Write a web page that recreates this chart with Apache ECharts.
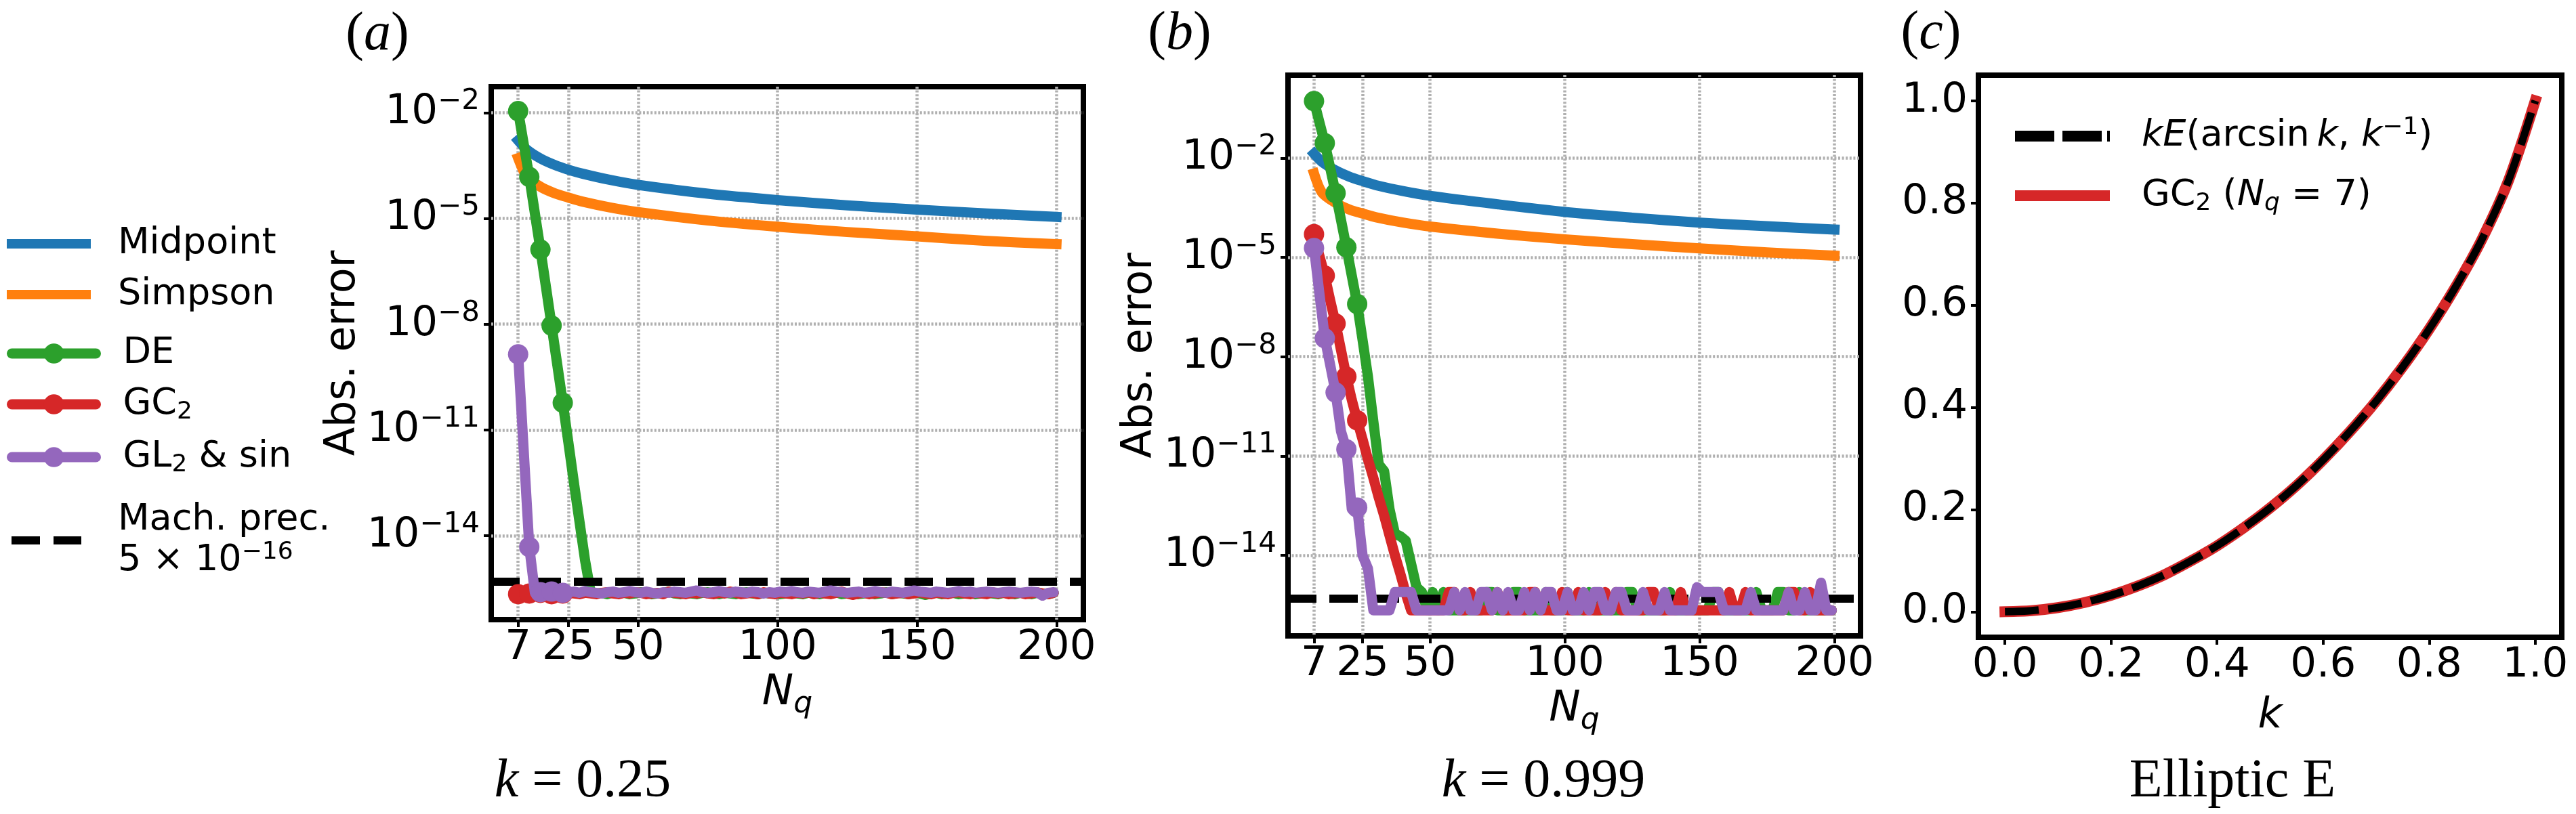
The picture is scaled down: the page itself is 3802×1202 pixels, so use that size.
<!DOCTYPE html>
<html>
<head>
<meta charset="utf-8">
<title>Quadrature errors</title>
<script src="https://cdn.jsdelivr.net/npm/echarts@6/dist/echarts.min.js"></script>
<style>
  html, body { margin: 0; padding: 0; background: #fff; }
  #chart { width: 3802px; height: 1202px; }
</style>
</head>
<body>
<div id="chart"></div>
<script>
// ---- data ----

// N_q grid of the Gauss/DE error curves
var nq = [7, 9, 11, 13, 15, 17, 19, 21, 23, 25, 27, 29, 31, 33, 35, 37, 39, 41, 43, 45,
  47, 49, 51, 53, 55, 57, 59, 61, 63, 65, 67, 69, 71, 73, 75, 77, 79, 81, 83, 85,
  87, 89, 91, 93, 95, 97, 99, 101, 103, 105, 107, 109, 111, 113, 115, 117, 119, 121, 123, 125,
  127, 129, 131, 133, 135, 137, 139, 141, 143, 145, 147, 149, 151, 153, 155, 157, 159, 161, 163, 165,
  167, 169, 171, 173, 175, 177, 179, 181, 183, 185, 187, 189, 191, 193, 195, 197, 199];
// N_q points used for the smooth midpoint / Simpson curves
var nqSmooth = [7, 10, 15, 20, 25, 30, 40, 50, 75, 100, 125, 150, 175, 200];

// (a) k = 0.25
var midA = [1.62e-3, 9.1e-4, 5.0e-4, 3.3e-4, 2.4e-4, 1.86e-4, 1.23e-4, 8.9e-5, 5.0e-5, 3.3e-5, 2.35e-5, 1.78e-5, 1.38e-5, 1.1e-5];
var simA = [5.1e-4, 1.58e-4, 7.9e-5, 5.2e-5, 3.9e-5, 3.0e-5, 2.04e-5, 1.51e-5, 8.7e-6, 5.8e-6, 4.1e-6, 3.1e-6, 2.3e-6, 1.86e-6];
var deA = [1.1e-2, 1.3e-3, 1.5e-4, 1.4e-5, 1.3e-6, 1.1e-7, 9.1e-9, 7.4e-10, 5.9e-11, 4.5e-12,
  3.2e-13, 2.5e-14, 2.0e-15, 2.5e-16, 2.3e-16, 2.4e-16, 2.2e-16, 2.5e-16, 2.3e-16, 2.4e-16,
  2.2e-16, 2.3e-16, 2.5e-16, 2.4e-16, 2.2e-16, 2.3e-16, 2.4e-16, 2.6e-16, 2.3e-16, 2.2e-16,
  2.4e-16, 2.3e-16, 2.2e-16, 2.4e-16, 2.5e-16, 2.3e-16, 2.2e-16, 2.4e-16, 2.3e-16, 2.2e-16,
  2.4e-16, 2.5e-16, 2.3e-16, 2.2e-16, 2.4e-16, 2.3e-16, 2.4e-16, 2.2e-16, 2.3e-16, 2.5e-16,
  2.3e-16, 2.2e-16, 2.4e-16, 2.3e-16, 2.2e-16, 2.4e-16, 2.3e-16, 2.5e-16, 2.2e-16, 2.3e-16,
  2.4e-16, 2.2e-16, 2.3e-16, 2.4e-16, 2.2e-16, 2.3e-16, 2.5e-16, 2.2e-16, 2.4e-16, 2.3e-16,
  2.2e-16, 2.4e-16, 2.3e-16, 2.1e-16, 2.3e-16, 2.4e-16, 2.2e-16, 2.3e-16, 2.4e-16, 2.2e-16,
  2.3e-16, 2.4e-16, 2.2e-16, 2.3e-16, 2.5e-16, 2.3e-16, 2.2e-16, 2.4e-16, 2.3e-16, 2.2e-16,
  2.4e-16, 2.3e-16, 2.2e-16, 2.4e-16, 2.3e-16, 2.2e-16, 2.4e-16];
var gcA = [2.2e-16, 2.1e-16, 2.3e-16, 2.2e-16, 2.4e-16, 2.3e-16, 2.2e-16, 2.4e-16, 2.3e-16, 2.5e-16,
  2.3e-16, 2.2e-16, 2.4e-16, 2.3e-16, 2.2e-16, 2.4e-16, 2.5e-16, 2.3e-16, 2.2e-16, 2.4e-16,
  2.3e-16, 2.5e-16, 2.4e-16, 2.2e-16, 2.3e-16, 2.4e-16, 2.2e-16, 2.6e-16, 2.4e-16, 2.3e-16,
  2.2e-16, 2.4e-16, 2.3e-16, 2.5e-16, 2.3e-16, 2.2e-16, 2.4e-16, 2.3e-16, 2.6e-16, 2.4e-16,
  2.2e-16, 2.3e-16, 2.4e-16, 2.2e-16, 2.5e-16, 2.3e-16, 2.2e-16, 2.4e-16, 2.3e-16, 2.2e-16,
  2.4e-16, 2.3e-16, 2.5e-16, 2.2e-16, 2.4e-16, 2.3e-16, 2.2e-16, 2.4e-16, 2.6e-16, 2.3e-16,
  2.1e-16, 2.3e-16, 2.4e-16, 2.2e-16, 2.3e-16, 2.5e-16, 2.4e-16, 2.2e-16, 2.3e-16, 2.4e-16,
  2.2e-16, 2.3e-16, 2.5e-16, 2.3e-16, 2.2e-16, 2.4e-16, 2.3e-16, 2.2e-16, 2.4e-16, 2.5e-16,
  2.3e-16, 2.2e-16, 2.4e-16, 2.3e-16, 2.2e-16, 2.5e-16, 2.3e-16, 2.4e-16, 2.2e-16, 2.3e-16,
  2.4e-16, 2.2e-16, 2.3e-16, 2.5e-16, 2.3e-16, 2.2e-16, 2.4e-16];
var glA = [1.4e-9, 2.6e-12, 4.8e-15, 2.4e-16, 2.5e-16, 2.4e-16, 2.6e-16, 2.5e-16, 2.4e-16, 2.5e-16,
  2.6e-16, 2.4e-16, 2.7e-16, 2.5e-16, 2.4e-16, 2.3e-16, 2.5e-16, 2.6e-16, 2.4e-16, 2.5e-16,
  2.7e-16, 2.5e-16, 2.4e-16, 2.6e-16, 2.4e-16, 2.3e-16, 2.5e-16, 2.4e-16, 2.6e-16, 2.5e-16,
  2.4e-16, 2.6e-16, 2.8e-16, 2.5e-16, 2.4e-16, 2.5e-16, 2.7e-16, 2.5e-16, 2.4e-16, 2.6e-16,
  2.5e-16, 2.4e-16, 2.6e-16, 2.5e-16, 2.3e-16, 2.5e-16, 2.4e-16, 2.6e-16, 2.5e-16, 2.7e-16,
  2.5e-16, 2.4e-16, 2.6e-16, 2.5e-16, 2.4e-16, 2.6e-16, 2.8e-16, 2.6e-16, 2.5e-16, 2.4e-16,
  2.5e-16, 2.6e-16, 2.4e-16, 2.5e-16, 2.7e-16, 2.5e-16, 2.4e-16, 2.6e-16, 2.5e-16, 2.4e-16,
  2.6e-16, 2.8e-16, 2.6e-16, 2.5e-16, 2.4e-16, 2.6e-16, 2.5e-16, 2.4e-16, 2.5e-16, 2.7e-16,
  2.5e-16, 2.6e-16, 2.4e-16, 2.5e-16, 2.6e-16, 2.5e-16, 2.4e-16, 2.5e-16, 2.6e-16, 2.5e-16,
  2.4e-16, 2.5e-16, 2.6e-16, 2.5e-16, 2.0e-16, 2.4e-16, 2.5e-16];

// (b) k = 0.999
var midB = [1.35e-2, 7.6e-3, 4.2e-3, 2.75e-3, 2.0e-3, 1.51e-3, 1.0e-3, 7.2e-4, 4.0e-4, 2.35e-4, 1.58e-4, 1.12e-4, 8.7e-5, 6.9e-5];
var simB = [3.4e-3, 8.9e-4, 4.4e-4, 2.8e-4, 2.1e-4, 1.62e-4, 1.12e-4, 8.5e-5, 5.2e-5, 3.5e-5, 2.5e-5, 1.86e-5, 1.41e-5, 1.12e-5];
var deB = [5.2e-1, 1.2e-1, 2.8e-2, 5.0e-3, 8.7e-4, 1.35e-4, 2.0e-5, 2.8e-6, 3.9e-7, 3.2e-8,
  2.5e-9, 1.1e-10, 5.6e-12, 3.5e-12, 2.5e-13, 4.5e-14, 3.8e-14, 2.8e-14, 5.6e-15, 1.1e-15,
  7.8e-16, 2.2e-16, 7.8e-16, 2.2e-16, 7.8e-16, 2.2e-16, 2.2e-16, 2.2e-16, 2.2e-16, 2.2e-16,
  2.2e-16, 2.2e-16, 7.8e-16, 7.8e-16, 2.2e-16, 2.2e-16, 2.2e-16, 7.8e-16, 7.8e-16, 2.2e-16,
  2.2e-16, 2.2e-16, 2.2e-16, 7.8e-16, 2.2e-16, 2.2e-16, 2.2e-16, 7.8e-16, 2.2e-16, 2.2e-16,
  2.2e-16, 7.8e-16, 2.2e-16, 2.2e-16, 2.2e-16, 2.2e-16, 2.2e-16, 2.2e-16, 7.8e-16, 7.8e-16,
  2.2e-16, 2.2e-16, 2.2e-16, 2.2e-16, 2.2e-16, 2.2e-16, 7.8e-16, 2.2e-16, 2.2e-16, 2.2e-16,
  2.2e-16, 2.2e-16, 2.2e-16, 2.2e-16, 7.8e-16, 7.8e-16, 2.2e-16, 2.2e-16, 2.2e-16, 2.2e-16,
  2.2e-16, 2.2e-16, 7.8e-16, 2.2e-16, 2.2e-16, 2.2e-16, 7.8e-16, 7.8e-16, 2.2e-16, 2.2e-16,
  7.8e-16, 2.2e-16, 2.2e-16, 2.2e-16, 2.2e-16, 2.2e-16, 2.2e-16];
var gcB = [5.0e-5, 1.1e-5, 2.8e-6, 5.0e-7, 1.0e-7, 1.6e-8, 2.5e-9, 5.0e-10, 1.2e-10, 3.2e-11,
  7.9e-12, 2.2e-12, 5.6e-13, 1.6e-13, 4.0e-14, 1.0e-14, 2.8e-15, 7.1e-16, 2.2e-16, 2.2e-16,
  2.2e-16, 2.2e-16, 2.2e-16, 2.2e-16, 2.2e-16, 7.8e-16, 7.8e-16, 2.2e-16, 2.2e-16, 7.8e-16,
  2.2e-16, 2.2e-16, 2.2e-16, 2.2e-16, 7.8e-16, 2.2e-16, 2.2e-16, 2.2e-16, 2.2e-16, 2.2e-16,
  7.8e-16, 7.8e-16, 2.2e-16, 2.2e-16, 2.2e-16, 2.2e-16, 7.8e-16, 2.2e-16, 2.2e-16, 7.8e-16,
  2.2e-16, 2.2e-16, 2.2e-16, 2.2e-16, 7.8e-16, 2.2e-16, 7.8e-16, 2.2e-16, 2.2e-16, 2.2e-16,
  2.2e-16, 2.2e-16, 7.8e-16, 7.8e-16, 2.2e-16, 2.2e-16, 2.2e-16, 2.2e-16, 7.8e-16, 2.2e-16,
  2.2e-16, 2.2e-16, 2.2e-16, 2.2e-16, 2.2e-16, 2.2e-16, 2.2e-16, 7.8e-16, 2.2e-16, 2.2e-16,
  7.8e-16, 2.2e-16, 2.2e-16, 2.2e-16, 2.2e-16, 2.2e-16, 2.2e-16, 2.2e-16, 7.8e-16, 7.8e-16,
  2.2e-16, 2.2e-16, 7.8e-16, 2.2e-16, 2.2e-16, 2.2e-16, 2.2e-16];
var glB = [1.9e-5, 8.0e-7, 3.6e-8, 5.6e-9, 8.3e-10, 5.6e-11, 1.6e-11, 2.5e-13, 2.8e-13, 1.0e-14,
  4.0e-15, 2.2e-16, 2.2e-16, 2.2e-16, 2.2e-16, 7.8e-16, 7.8e-16, 7.8e-16, 7.8e-16, 2.2e-16,
  2.2e-16, 2.2e-16, 2.2e-16, 2.2e-16, 2.2e-16, 2.2e-16, 7.8e-16, 2.2e-16, 7.8e-16, 2.2e-16,
  2.2e-16, 7.8e-16, 7.8e-16, 2.2e-16, 7.8e-16, 2.2e-16, 7.8e-16, 2.2e-16, 2.2e-16, 7.8e-16,
  2.2e-16, 7.8e-16, 2.2e-16, 7.8e-16, 7.8e-16, 2.2e-16, 2.2e-16, 7.8e-16, 2.2e-16, 2.2e-16,
  7.8e-16, 2.2e-16, 7.8e-16, 7.8e-16, 2.2e-16, 2.2e-16, 7.8e-16, 7.8e-16, 2.2e-16, 2.2e-16,
  2.2e-16, 7.8e-16, 2.2e-16, 2.2e-16, 2.2e-16, 7.8e-16, 2.2e-16, 2.2e-16, 2.2e-16, 2.2e-16,
  2.2e-16, 1.1e-15, 7.8e-16, 7.8e-16, 7.8e-16, 7.8e-16, 2.2e-16, 2.2e-16, 2.2e-16, 2.2e-16,
  2.2e-16, 7.8e-16, 2.2e-16, 2.2e-16, 2.2e-16, 2.2e-16, 2.2e-16, 2.2e-16, 7.8e-16, 2.2e-16,
  2.2e-16, 7.8e-16, 2.2e-16, 2.2e-16, 1.5e-15, 2.2e-16, 2.2e-16];

var machPrec = 5e-16;

// (c) elliptic E
var kVals = [0, 0.05, 0.1, 0.15, 0.2, 0.25, 0.3, 0.35, 0.4, 0.45, 0.5,
  0.55, 0.6, 0.65, 0.7, 0.75, 0.8, 0.85, 0.9, 0.95, 1.0];
var ellExact = [0, 0.002, 0.008, 0.018, 0.032, 0.050, 0.072, 0.099, 0.129, 0.164, 0.203,
  0.247, 0.297, 0.352, 0.412, 0.479, 0.553, 0.636, 0.730, 0.845, 1.0];
var ellGC = [0, 0.002, 0.008, 0.018, 0.032, 0.050, 0.072, 0.099, 0.129, 0.164, 0.203,
  0.247, 0.297, 0.352, 0.412, 0.479, 0.553, 0.636, 0.730, 0.845, 1.0];

// tick labels
var nqTicks = [7, 25, 50, 100, 150, 200];
var expTicks = [-14, -11, -8, -5, -2];
var kTicks = [0, 0.2, 0.4, 0.6, 0.8, 1.0];

// ---- style ----
var SANS = 'DejaVu Sans';
var SERIF = 'Liberation Serif';
var C_MID = '#1f77b4', C_SIM = '#ff7f0e', C_DE = '#2ca02c', C_GC = '#d62728', C_GL = '#9467bd';
var LW = 15;     // curve width
var MS = 30;     // marker size
var GRIDLINE = { color: '#b0b0b0', width: 4.5, type: [3, 2.6] };
var TICK = { color: '#000', width: 4 };

function lg(v) { return Math.log10(v); }

// markers only on the first points N = 7, 11, 15, 19, 23
function errData(xs, ys, marked) {
  return xs.map(function (x, i) {
    var p = [x, lg(ys[i])];
    if (marked && i < 9 && i % 2 === 0) return p;
    return { value: p, symbol: 'none' };
  });
}

function errLine(name, g, xs, ys, color, marked, z) {
  return {
    type: 'line', name: name, xAxisIndex: g, yAxisIndex: g,
    data: errData(xs, ys, marked),
    symbol: marked ? 'circle' : 'none', symbolSize: MS,
    smooth: marked ? false : 0.3,
    lineStyle: { color: color, width: LW, join: 'round', cap: marked ? 'round' : 'square' },
    itemStyle: { color: color },
    z: z, silent: true, animation: false
  };
}

function machLine(g) {
  var dash = { color: '#000', width: 12, type: [42, 19] };
  return {
    type: 'line', name: 'Mach', xAxisIndex: g, yAxisIndex: g, data: [],
    symbol: 'none', lineStyle: dash, itemStyle: { color: '#000' }, z: 9,
    markLine: {
      silent: true, symbol: 'none', label: { show: false }, animation: false,
      lineStyle: dash, data: [{ yAxis: lg(machPrec) }]
    }
  };
}

var nameRich = {
  i: { fontFamily: SANS, fontStyle: 'italic', fontSize: 62, lineHeight: 78, color: '#000' },
  q: { fontFamily: SANS, fontStyle: 'italic', fontSize: 44, lineHeight: 46, verticalAlign: 'bottom', color: '#000' }
};

function nqAxis(g) {
  return {
    type: 'value', gridIndex: g, min: -2.65, max: 209.65,
    name: '{i|N}{q|q}', nameLocation: 'middle', nameGap: 66,
    nameTextStyle: { rich: nameRich },
    axisLine: { show: false, onZero: false },
    axisTick: { length: 11, lineStyle: TICK, customValues: nqTicks },
    axisLabel: { customValues: nqTicks, margin: 12, fontFamily: SANS, fontSize: 61, color: '#000' },
    splitLine: { show: true, lineStyle: GRIDLINE }
  };
}

function errAxis(g, lo, hi) {
  return {
    type: 'value', gridIndex: g, min: lo, max: hi,
    name: 'Abs. error', nameLocation: 'middle', nameGap: 178,
    nameTextStyle: { fontFamily: SANS, fontSize: 62, color: '#000' },
    axisLine: { show: false, onZero: false },
    axisTick: { length: 11, lineStyle: TICK, customValues: expTicks },
    axisLabel: {
      customValues: expTicks, margin: 17,
      formatter: function (v) { return '{b|10}{s|\u2212' + Math.round(Math.abs(v)) + '}'; },
      rich: {
        b: { fontFamily: SANS, fontSize: 61, lineHeight: 74, color: '#000' },
        s: { fontFamily: SANS, fontSize: 42, lineHeight: 42, verticalAlign: 'top', color: '#000' }
      }
    },
    splitLine: { show: true, lineStyle: GRIDLINE }
  };
}

var legRich = {
  t: { fontFamily: SANS, fontSize: 54, lineHeight: 60, color: '#000' },
  ti: { fontFamily: SANS, fontSize: 54, fontStyle: 'italic', lineHeight: 60, color: '#000' },
  sub: { fontFamily: SANS, fontSize: 36, lineHeight: 26, verticalAlign: 'bottom', color: '#000' },
  subi: { fontFamily: SANS, fontSize: 36, fontStyle: 'italic', lineHeight: 26, verticalAlign: 'bottom', color: '#000' },
  sup: { fontFamily: SANS, fontSize: 36, lineHeight: 32, verticalAlign: 'top', color: '#000' }
};
var legNames = {
  'Midpoint': '{t|Midpoint}',
  'Simpson': '{t|Simpson}',
  'DE': '{t|DE}',
  'GC2': '{t|GC}{sub|2}',
  'GL2 & sin': '{t|GL}{sub|2}{t| & sin}',
  'Mach': '{t|Mach. prec.}\n{t|5 \u00d7 10}{sup|\u221216}',
  'kE': '{ti|kE}{t|(arcsin\u2009}{ti|k}{t|, }{ti|k}{sup|\u22121}{t|)}',
  'GC2 (c)': '{t|GC}{sub|2}{t| (}{ti|N}{subi|q}{t| = 7)}'
};
function legFmt(name) { return legNames[name]; }

function legend(items, left, top, w, h, gap, padLeft) {
  return {
    data: items, orient: 'vertical', left: left, top: top, padding: 0,
    itemWidth: w, itemHeight: h, itemGap: gap, selectedMode: false,
    formatter: legFmt,
    lineStyle: { width: LW },
    textStyle: { rich: legRich, padding: [0, 0, 0, padLeft] }
  };
}

var serifRich = {
  p: { fontFamily: SERIF, fontSize: 80, color: '#000' },
  i: { fontFamily: SERIF, fontSize: 80, fontStyle: 'italic', color: '#000' }
};
function label(x, y, text) {
  return {
    type: 'text', x: x, y: y, silent: true,
    style: { text: text, rich: serifRich, fontFamily: SERIF, fontSize: 80, fill: '#000', align: 'center', verticalAlign: 'middle' }
  };
}

var frame = { show: true, borderColor: '#000', borderWidth: 8, backgroundColor: 'transparent', outerBoundsMode: 'none' };

var option = {
  backgroundColor: '#fff',
  animation: false,
  grid: [
    Object.assign({ left: 725, top: 128, width: 874, height: 787 }, frame),
    Object.assign({ left: 1901, top: 111, width: 845, height: 828 }, frame),
    Object.assign({ left: 2920, top: 111, width: 861, height: 830 }, frame)
  ],
  xAxis: [
    nqAxis(0),
    nqAxis(1),
    {
      type: 'value', gridIndex: 2, min: -0.05, max: 1.05,
      name: 'k', nameLocation: 'middle', nameGap: 64,
      nameTextStyle: { fontFamily: SANS, fontStyle: 'italic', fontSize: 62, lineHeight: 78, color: '#000' },
      axisLine: { show: false, onZero: false },
      axisTick: { length: 11, lineStyle: TICK, customValues: kTicks },
      axisLabel: { customValues: kTicks, margin: 12, fontFamily: SANS, fontSize: 61, color: '#000',
        formatter: function (v) { return v.toFixed(1); } },
      splitLine: { show: false }
    }
  ],
  yAxis: [
    errAxis(0, -16.38, -1.265),
    errAxis(1, -16.43, 0.50),
    {
      type: 'value', gridIndex: 2, min: -0.05, max: 1.05,
      axisLine: { show: false, onZero: false },
      axisTick: { length: 11, lineStyle: TICK, customValues: kTicks },
      axisLabel: { customValues: kTicks, margin: 16, fontFamily: SANS, fontSize: 61, color: '#000',
        formatter: function (v) { return v.toFixed(1); } },
      splitLine: { show: false }
    }
  ],
  legend: [
    legend([{ name: 'Midpoint', icon: 'rect' }, { name: 'Simpson', icon: 'rect' }], 10, 333, 124, 14, 21, 35),
    legend(['DE', 'GC2', 'GL2 & sin'], 10, 495, 124, 37, 21, 35),
    legend([{ name: 'Mach', icon: 'path://M0,0 L42,0 L42,12 L0,12 Z M62,0 L103,0 L103,12 L62,12 Z' }],
      17, 741, 103, 12, 0, 49),
    legend([
      { name: 'kE', icon: 'path://M0,0 L58,0 L58,16 L0,16 Z M70,0 L128,0 L128,16 L70,16 Z M136,0 L140,0 L140,16 L136,16 Z' },
      { name: 'GC2 (c)', icon: 'rect' }
    ], 2974, 171, 140, 16, 34, 42)
  ],
  graphic: [
    label(557, 52, '{p|(}{i|a}{p|)}'),
    label(1741, 51, '{p|(}{i|b}{p|)}'),
    label(2850, 50, '{p|(}{i|c}{p|)}'),
    label(860, 1155, '{i|k}{p| = 0.25}'),
    label(2278, 1155, '{i|k}{p| = 0.999}'),
    label(3295, 1155, '{p|Elliptic E}')
  ],
  series: [
    errLine('Midpoint', 0, nqSmooth, midA, C_MID, false, 2),
    errLine('Simpson', 0, nqSmooth, simA, C_SIM, false, 3),
    errLine('DE', 0, nq, deA, C_DE, true, 4),
    errLine('GC2', 0, nq, gcA, C_GC, true, 5),
    errLine('GL2 & sin', 0, nq, glA, C_GL, true, 6),
    machLine(0),

    errLine('Midpoint', 1, nqSmooth, midB, C_MID, false, 2),
    errLine('Simpson', 1, nqSmooth, simB, C_SIM, false, 3),
    errLine('DE', 1, nq, deB, C_DE, true, 4),
    errLine('GC2', 1, nq, gcB, C_GC, true, 5),
    errLine('GL2 & sin', 1, nq, glB, C_GL, true, 6),
    machLine(1),

    {
      type: 'line', name: 'GC2 (c)', xAxisIndex: 2, yAxisIndex: 2,
      data: kVals.map(function (k, i) { return [k, ellGC[i]]; }),
      symbol: 'none', smooth: 0.3,
      lineStyle: { color: C_GC, width: 16, cap: 'square' }, itemStyle: { color: C_GC }, z: 3, silent: true
    },
    {
      type: 'line', name: 'kE', xAxisIndex: 2, yAxisIndex: 2,
      data: kVals.map(function (k, i) { return [k, ellExact[i]]; }),
      symbol: 'none', smooth: 0.3,
      lineStyle: { color: '#000', width: 11, type: [50, 14] }, itemStyle: { color: '#000' }, z: 4, silent: true
    }
  ]
};

var chart = echarts.init(document.getElementById('chart'), null, { renderer: 'canvas' });
chart.setOption(option);
</script>
</body>
</html>
